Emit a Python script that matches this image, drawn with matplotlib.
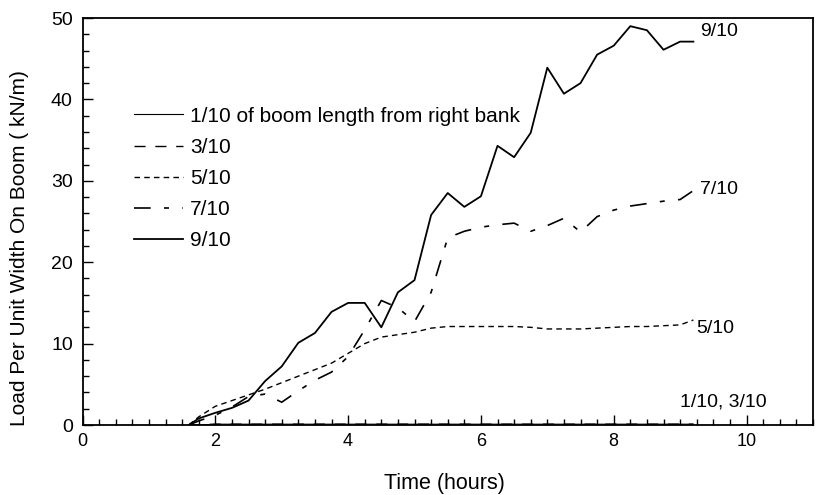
import matplotlib
matplotlib.use('Agg')
import matplotlib.pyplot as plt
from matplotlib.ticker import MultipleLocator

plt.rcParams['font.family'] = ['Liberation Sans', 'DejaVu Sans']

# tempo (horas)
hours = [1.6, 1.75, 2.0, 2.25, 2.5, 2.75, 3.0, 3.25, 3.5, 3.75, 4.0, 4.25, 4.5, 4.75,
         5.0, 5.25, 5.5, 5.75, 6.0, 6.25, 6.5, 6.75, 7.0, 7.25, 7.5, 7.75, 8.0, 8.25,
         8.5, 8.75, 9.0, 9.2]

load_1 = [0, 0, 0.1, 0.1, 0.1, 0.1, 0.1, 0.1, 0.1, 0.1, 0.1, 0.1, 0.1, 0.1,
          0.1, 0.1, 0.1, 0.1, 0.1, 0.1, 0.1, 0.1, 0.1, 0.1, 0.1, 0.1, 0.1, 0.1,
          0.1, 0.1, 0.1, 0.1]
load_3 = [0, 0, 0.1, 0.1, 0.1, 0.1, 0.1, 0.1, 0.1, 0.1, 0.1, 0.1, 0.1, 0.1,
          0.1, 0.1, 0.1, 0.1, 0.1, 0.1, 0.1, 0.1, 0.1, 0.1, 0.1, 0.1, 0.1, 0.1,
          0.1, 0.1, 0.1, 0.1]
load_5 = [0, 1.0, 2.3, 3.0, 3.7, 4.4, 5.2, 6.0, 6.8, 7.6, 8.8, 10.0, 10.8, 11.1,
          11.4, 11.9, 12.1, 12.1, 12.1, 12.1, 12.1, 12.0, 11.8, 11.8, 11.8, 11.9, 12.0, 12.1,
          12.1, 12.2, 12.3, 12.9]
load_7 = [0, 0.5, 1.2, 2.2, 3.5, 3.8, 2.8, 4.2, 5.5, 6.5, 8.4, 11.7, 15.3, 14.4,
          12.7, 16.3, 23.0, 23.8, 24.3, 24.6, 24.8, 23.8, 24.5, 25.4, 23.7, 25.6, 26.4, 26.9,
          27.2, 27.5, 27.7, 28.8]
load_9 = [0, 0.8, 1.5, 2.1, 3.0, 5.4, 7.2, 10.1, 11.3, 13.9, 15.0, 15.0, 12.0, 16.3,
          17.8, 25.8, 28.5, 26.8, 28.1, 34.3, 32.9, 35.9, 43.9, 40.7, 42.0, 45.5, 46.6, 49.0,
          48.5, 46.1, 47.1, 47.1]

fig = plt.figure(figsize=(8.17, 4.95), dpi=100)
ax = fig.add_axes([0.101, 0.1414, 0.894, 0.8222])

ax.plot(hours, load_1, color='black', lw=0.8, label='1/10 of boom length from right bank')
ax.plot(hours, load_3, color='black', lw=1.0, dashes=(8, 7), label='3/10')
ax.plot(hours, load_5, color='black', lw=1.0, dashes=(4, 3), label='5/10')
ax.plot(hours, load_7, color='black', lw=1.2, dashes=(10, 8, 3, 8), label='7/10')
ax.plot(hours, load_9, color='black', lw=1.3, label='9/10')

# rótulos nas curvas
ax.text(9.3, 48.4, '9/10', fontsize=14, va='center')
ax.text(9.3, 28.9, '7/10', fontsize=14, va='center')
ax.text(9.25, 11.9, '5/10', fontsize=14, va='center')
ax.text(9.0, 2.8, '1/10, 3/10', fontsize=14, va='center')

ax.set_xlim(0, 11)
ax.set_ylim(0, 50)
ax.xaxis.set_major_locator(MultipleLocator(2))
ax.xaxis.set_minor_locator(MultipleLocator(0.25))
ax.yaxis.set_major_locator(MultipleLocator(10))
ax.yaxis.set_minor_locator(MultipleLocator(2))
ax.tick_params(which='both', direction='in', width=1)
ax.tick_params(which='major', length=7)
ax.tick_params(which='minor', length=4)
ax.tick_params(axis='x', labelsize=13, pad=6)
ax.tick_params(axis='y', labelsize=14, pad=7)
for s in ax.spines.values():
    s.set_linewidth(1.3)

ax.set_xlabel('Time (hours)', fontsize=15.5)
ax.set_ylabel('Load Per Unit Width On Boom ( kN/m)', fontsize=15)
ax.xaxis.set_label_coords(0.495, -0.118)
ax.yaxis.set_label_coords(-0.073, 0.435)

ax.legend(loc='upper left', bbox_to_anchor=(0.0705, 0.782), frameon=False, fontsize=15,
          handlelength=2.35, handletextpad=0.35, labelspacing=0.58, borderpad=0,
          borderaxespad=0)

fig.savefig('out.png', dpi=100)
